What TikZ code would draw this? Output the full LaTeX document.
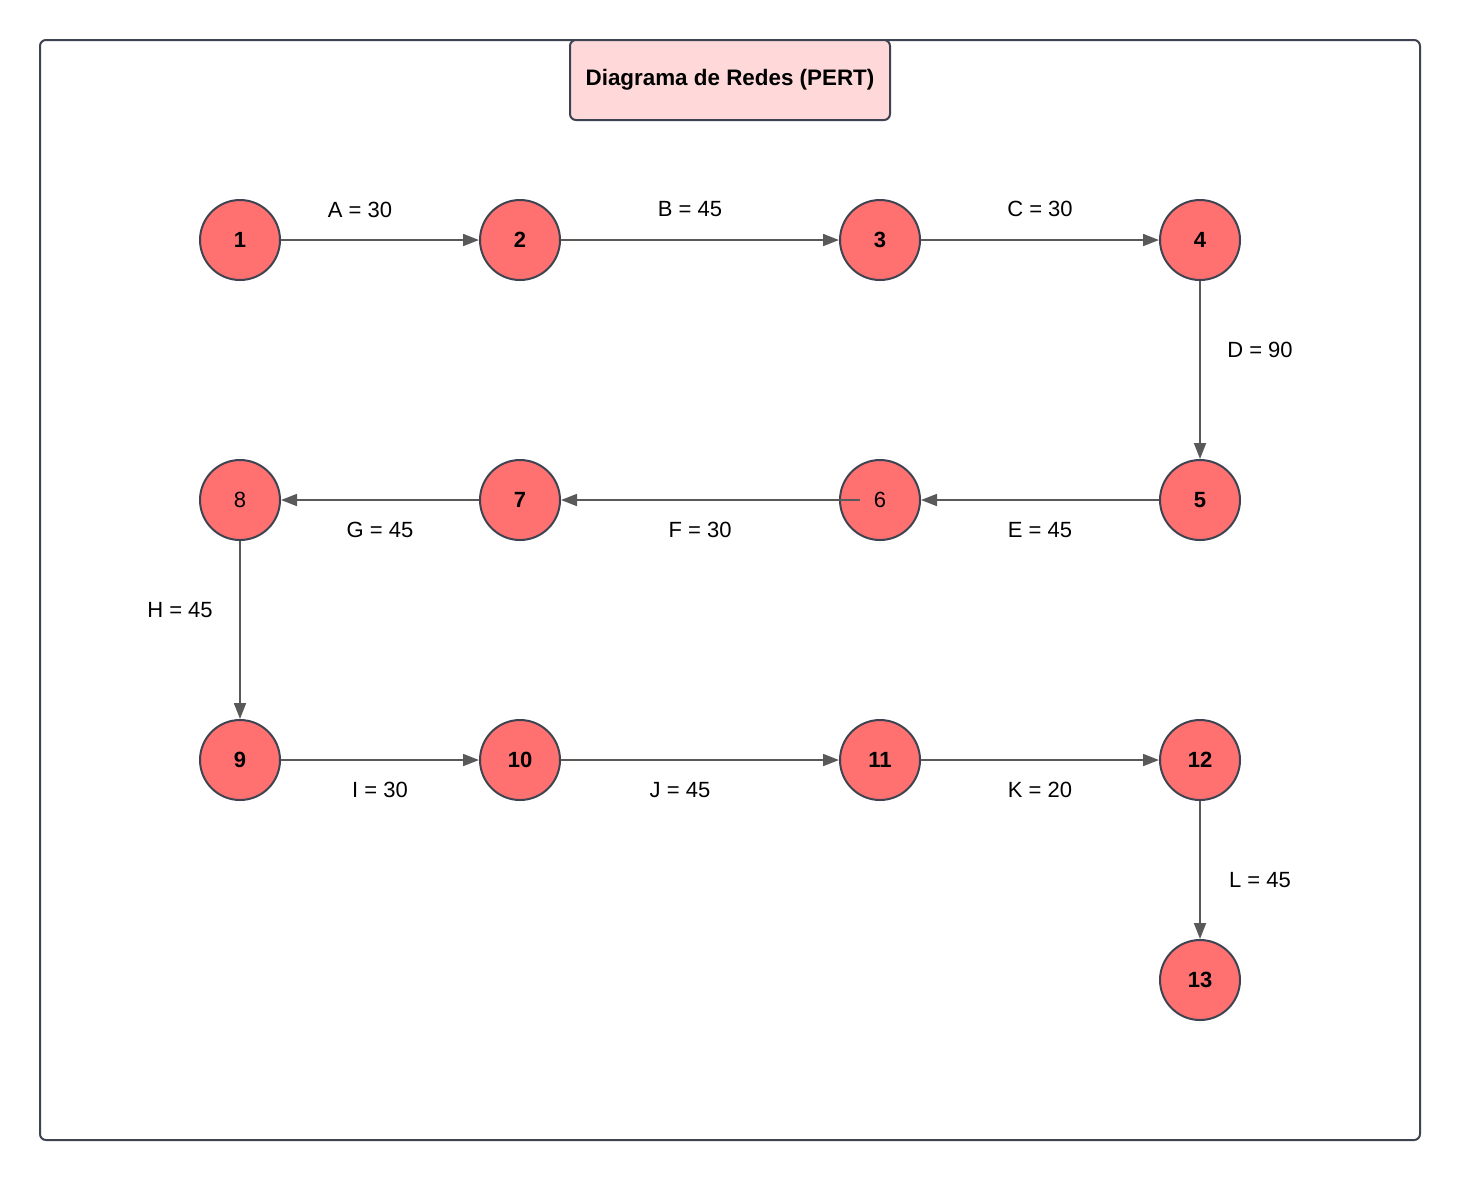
\documentclass[tikz,border=0pt]{standalone}
\usepackage{fontspec}
\setmainfont{Liberation Sans}
\usetikzlibrary{arrows.meta,calc}
\definecolor{nodefill}{HTML}{FF7171}
\definecolor{nodeline}{HTML}{3D4350}
\definecolor{edgecol}{HTML}{595959}
\definecolor{titlefill}{HTML}{FFD9DA}
\begin{document}
\begin{tikzpicture}[x=0.5pt,y=-0.5pt,
  event/.style={circle,draw=nodeline,fill=nodefill,line width=1pt,minimum size=40pt,inner sep=0pt,font=\fontsize{11}{13}\selectfont\bfseries},
  eventplain/.style={event,font=\fontsize{11}{13}\selectfont},
  act/.style={draw=edgecol,line width=0.9pt,-{Triangle[length=8pt,width=6pt]}},
  lbl/.style={font=\fontsize{11}{13}\selectfont,inner sep=0pt}]
\useasboundingbox (0,0) rectangle (1460,1180);
\draw[nodeline,line width=1pt,rounded corners=3pt] (40,40) rectangle (1420,1140);
\node[draw=nodeline,fill=titlefill,line width=1pt,rounded corners=3pt,minimum width=160pt,minimum height=40pt,inner sep=0pt,font=\fontsize{11.2}{13}\selectfont\bfseries] (title) at (730,80) {Diagrama de Redes (PERT)};
\node[event] (n1) at (240,240) {1};
\node[event] (n2) at (520,240) {2};
\node[event] (n3) at (880,240) {3};
\node[event] (n4) at (1200,240) {4};
\node[event] (n5) at (1200,500) {5};
\node[eventplain] (n6) at (880,500) {6};
\node[event] (n7) at (520,500) {7};
\node[eventplain] (n8) at (240,500) {8};
\node[event] (n9) at (240,760) {9};
\node[event] (n10) at (520,760) {10};
\node[event] (n11) at (880,760) {11};
\node[event] (n12) at (1200,760) {12};
\node[event] (n13) at (1200,980) {13};
\coordinate (f6) at (860,500);
\draw[act] (n1) -- (n2);
\draw[act] (n2) -- (n3);
\draw[act] (n3) -- (n4);
\draw[act] (n4) -- (n5);
\draw[act] (n5) -- (n6);
\draw[act] (f6) -- (n7);
\draw[act] (n7) -- (n8);
\draw[act] (n8) -- (n9);
\draw[act] (n9) -- (n10);
\draw[act] (n10) -- (n11);
\draw[act] (n11) -- (n12);
\draw[act] (n12) -- (n13);
\node[lbl] (la) at (360,210) {A = 30};
\node[lbl] (lb) at (690,209) {B = 45};
\node[lbl] (lc) at (1040,209) {C = 30};
\node[lbl] (ld) at (1260,350) {D = 90};
\node[lbl] (le) at (1040,530) {E = 45};
\node[lbl] (lf) at (700,530) {F = 30};
\node[lbl] (lg) at (380,530) {G = 45};
\node[lbl] (lh) at (180,610) {H = 45};
\node[lbl] (li) at (380,790) {I = 30};
\node[lbl] (lj) at (680,790) {J = 45};
\node[lbl] (lk) at (1040,790) {K = 20};
\node[lbl] (ll) at (1260,880) {L = 45};
\end{tikzpicture}
\end{document}
